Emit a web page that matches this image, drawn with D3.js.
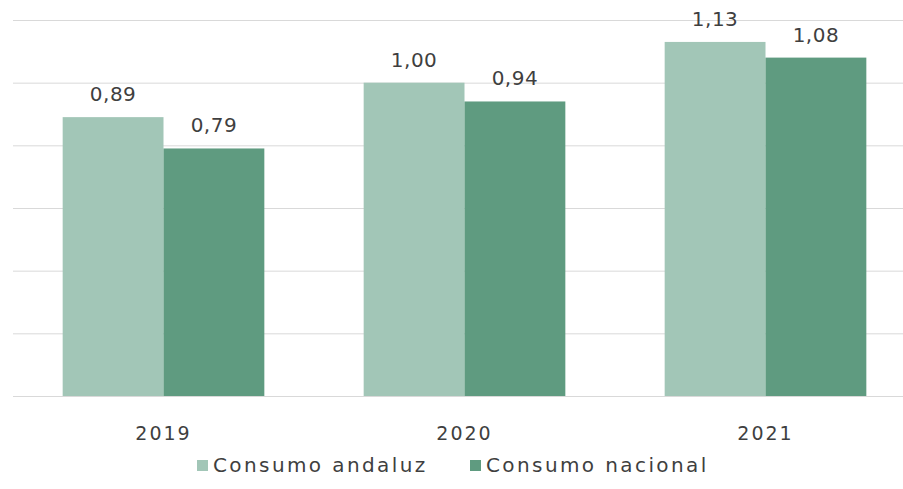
<!DOCTYPE html>
<html>
<head>
<meta charset="utf-8">
<script src="https://cdn.jsdelivr.net/npm/d3@7"></script>
<style>
  body { margin: 0; background: #fff; }
  svg text { font-family: "DejaVu Sans", sans-serif; fill: #3f3f3f; }
  .grid line { stroke: #d9d9d9; stroke-width: 1; }
  .grid path { display: none; }
</style>
</head>
<body>
<svg id="chart"></svg>
<script>
// data
const years = ["2019", "2020", "2021"];
const series = ["Consumo andaluz", "Consumo nacional"];
const andaluz = [0.89, 1.00, 1.13];
const nacional = [0.79, 0.94, 1.08];
const yTicks = [0, 0.2, 0.4, 0.6, 0.8, 1.0, 1.2];
const colors = ["#a2c6b7", "#5f9b80"];

const width = 903, height = 489;
const margin = {top: 20, right: -13, bottom: 93, left: 13};
const innerW = width - margin.left - margin.right;
const innerH = height - margin.top - margin.bottom;

const fmt = d3.format(".2f");
const comma = v => fmt(v).replace(".", ",");

const svg = d3.select("#chart")
    .attr("width", width)
    .attr("height", height)
  .append("g")
    .attr("transform", "translate(" + margin.left + "," + margin.top + ")");

// scales
const x = d3.scaleBand().domain(years).range([0, innerW]).padding(0);
const x1 = d3.scaleBand().domain(series).range([x.bandwidth() * 0.165, x.bandwidth() * 0.835]);
const y = d3.scaleLinear().domain([0, 1.2]).range([innerH, 0]);

// gridlines
svg.append("g")
    .attr("class", "grid")
    .call(d3.axisLeft(y).tickValues(yTicks).tickSize(-(width - margin.left)).tickFormat(""));

const rows = years.map((yr, i) => ({year: yr, values: [andaluz[i], nacional[i]]}));

const groups = svg.selectAll(".group")
    .data(rows)
    .enter().append("g")
    .attr("transform", d => "translate(" + x(d.year) + ",0)");

groups.selectAll("rect")
    .data(d => d.values.map((v, j) => ({key: series[j], v, j})))
    .enter().append("rect")
    .attr("x", d => x1(d.key))
    .attr("width", x1.bandwidth())
    .attr("y", d => y(d.v))
    .attr("height", d => innerH - y(d.v))
    .attr("fill", d => colors[d.j]);

groups.selectAll(".lbl")
    .data(d => d.values.map((v, j) => ({key: series[j], v, j})))
    .enter().append("text")
    .attr("class", "lbl")
    .attr("x", d => x1(d.key) + x1.bandwidth() / 2)
    .attr("y", d => y(d.v) - 16)
    .attr("text-anchor", "middle")
    .style("font-size", "20px")
    .style("letter-spacing", "0.5px")
    .text(d => comma(d.v));

// x axis labels
svg.selectAll(".year")
    .data(years)
    .enter().append("text")
    .attr("class", "year")
    .attr("x", d => x(d) + x.bandwidth() / 2)
    .attr("y", innerH + 44)
    .attr("text-anchor", "middle")
    .style("font-size", "19px")
    .style("letter-spacing", "2px")
    .text(d => d);

// legend
const legendX = [197, 470];
const legend = d3.select("#chart").selectAll(".legend")
    .data(series)
    .enter().append("g")
    .attr("transform", (d, i) => "translate(" + legendX[i] + ",460)");

legend.append("rect")
    .attr("width", 11).attr("height", 11)
    .attr("fill", (d, i) => colors[i]);

legend.append("text")
    .attr("x", 16).attr("y", 12)
    .style("font-size", "20px")
    .style("letter-spacing", "2.4px")
    .text(d => d);
</script>
</body>
</html>
